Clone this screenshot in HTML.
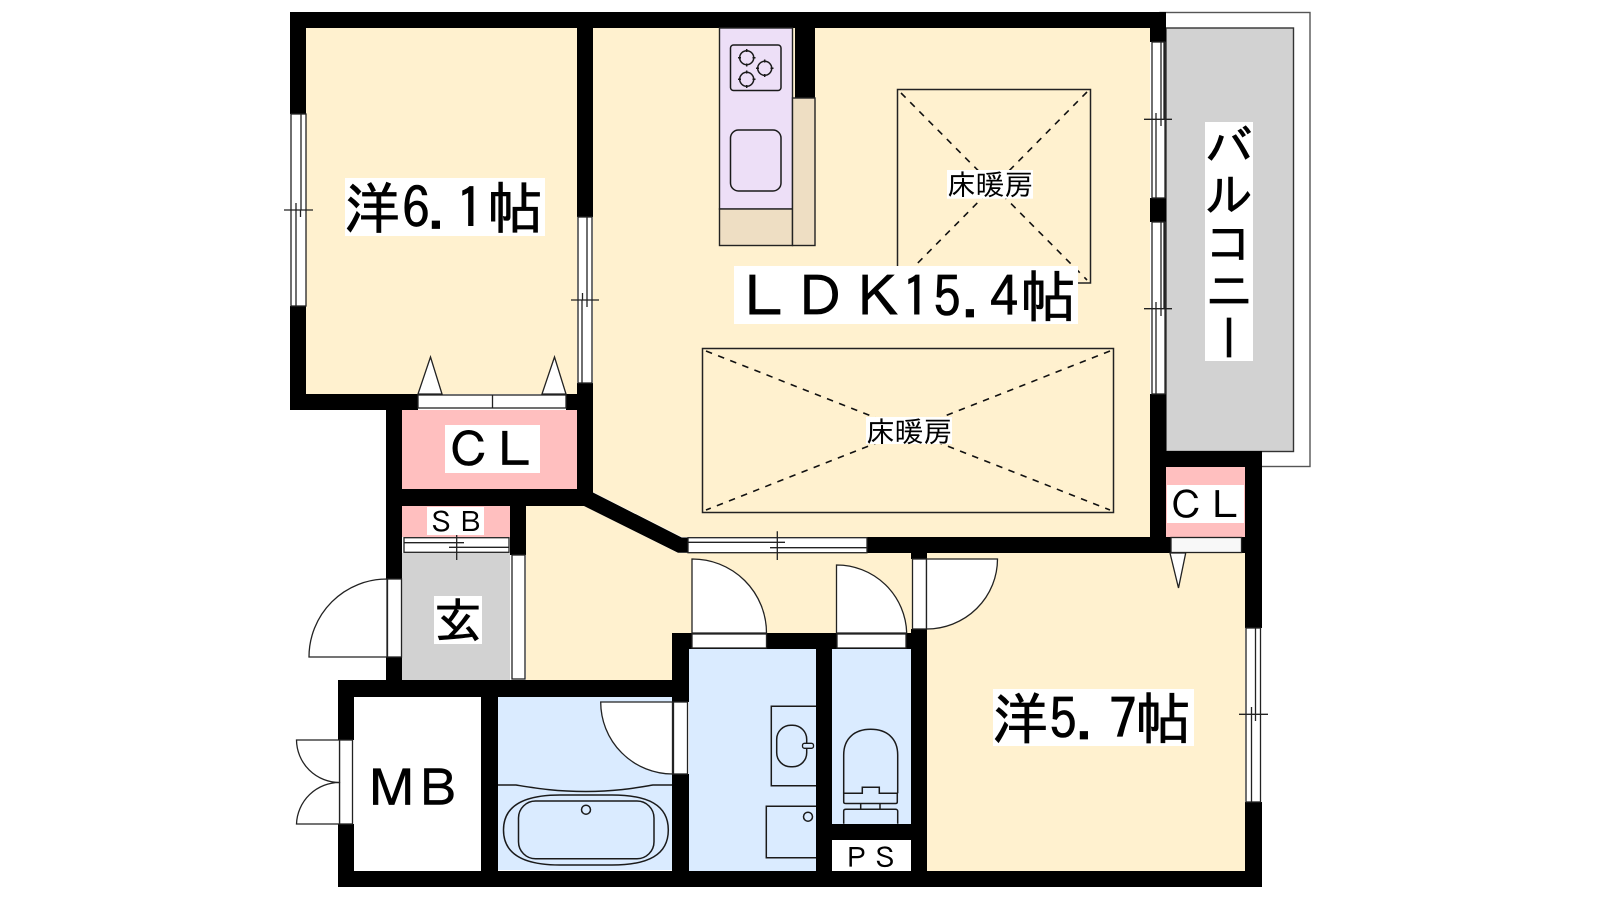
<!DOCTYPE html>
<html lang="ja">
<head>
<meta charset="utf-8">
<title>間取り図</title>
<style>
html,body{margin:0;padding:0;background:#fff;width:1600px;height:900px;overflow:hidden}
svg{display:block}
text{font-family:"IPAGothic","Liberation Sans","Noto Sans CJK JP",sans-serif;fill:#000}
.b{stroke:#000;stroke-width:.7}
.w{fill:#fff;stroke:#222;stroke-width:1.3}
.l{fill:none;stroke:#222;stroke-width:1.3}
.s{fill:none;stroke:#1a1a1a;stroke-width:1.5}
.d{fill:none;stroke:#111;stroke-width:1.6;stroke-dasharray:6.500 6.500}
</style>
</head>
<body>
<svg width="1600" height="900" viewBox="0 0 1600 900" xmlns="http://www.w3.org/2000/svg">
<rect width="1600" height="900" fill="#fff"/>

<!-- balcony -->
<rect x="1160" y="12.500" width="150" height="454" fill="#fff" stroke="#555" stroke-width="1.400"/>
<rect x="1166" y="28" width="127.500" height="423.500" fill="#d2d2d2" stroke="#333" stroke-width="1.400"/>

<!-- floors -->
<rect x="306" y="28" width="271" height="366" fill="#fff1cf"/>
<polygon points="593,28 1150,28 1150,537 682,537 593,492" fill="#fff1cf"/>
<polygon points="526,506 584,506 678,553 927,553 927,633 672,633 672,680 526,680" fill="#fff1cf"/>
<rect x="927" y="553" width="318" height="318" fill="#fff1cf"/>
<rect x="402" y="410" width="175" height="79" fill="#ffbfbf"/>
<rect x="402" y="506" width="108" height="31" fill="#ffbfbf"/>
<rect x="402" y="553" width="108" height="127" fill="#d2d2d2"/>
<rect x="498" y="697" width="174" height="173" fill="#daebff"/>
<rect x="689" y="649" width="127" height="222" fill="#daebff"/>
<rect x="832" y="649" width="79" height="175" fill="#daebff"/>
<rect x="1166" y="467" width="79" height="70" fill="#ffbfbf"/>

<!-- walls -->
<g fill="#000">
<rect x="290" y="12" width="876" height="16"/>
<rect x="290" y="12" width="16" height="102"/>
<rect x="290" y="306" width="16" height="104"/>
<rect x="290" y="394" width="128" height="16"/>
<rect x="566" y="394" width="27" height="16"/>
<rect x="577" y="28" width="16" height="189"/>
<rect x="577" y="383" width="16" height="123"/>
<rect x="386" y="489" width="207" height="17"/>
<rect x="386" y="394" width="16" height="185"/>
<rect x="386" y="657" width="16" height="40"/>
<polygon points="593,492.500 681.700,537.500 688,537.500 688,552.700 678,552.700 584,506"/>
<rect x="510" y="506" width="16" height="49"/>
<rect x="338" y="680" width="351" height="17"/>
<rect x="672" y="633" width="17" height="69"/>
<rect x="672" y="774" width="17" height="113"/>
<rect x="338" y="680" width="16" height="60"/>
<rect x="338" y="824" width="16" height="63"/>
<rect x="338" y="871" width="924" height="16"/>
<rect x="481" y="697" width="17" height="174"/>
<rect x="672" y="633" width="255" height="16"/>
<rect x="816" y="633" width="16" height="254"/>
<rect x="832" y="824" width="79" height="16"/>
<rect x="911" y="629" width="16" height="258"/>
<rect x="911" y="552" width="16" height="7"/>
<rect x="867" y="537" width="395" height="16"/>
<rect x="1150" y="12" width="16" height="30"/>
<rect x="1150" y="198" width="16" height="24"/>
<rect x="1150" y="394" width="16" height="159"/>
<rect x="1150" y="451" width="112" height="16"/>
<rect x="1245" y="451" width="17" height="177"/>
<rect x="1245" y="802" width="17" height="85"/>
<rect x="795" y="28" width="20" height="70"/>
</g>

<!-- kitchen -->
<rect x="719.500" y="28" width="73" height="181" fill="#eddff7" stroke="#222" stroke-width="1.400"/>
<rect x="719.500" y="209" width="73" height="36.500" fill="#eedec3" stroke="#222" stroke-width="1.400"/>
<rect x="792.500" y="98" width="22.500" height="147.500" fill="#eedec3" stroke="#222" stroke-width="1.400"/>
<rect x="730.500" y="45" width="50.500" height="45.500" rx="3" class="s"/>
<rect x="730.500" y="130" width="50.500" height="61" rx="8" class="s"/>
<g class="s">
<circle cx="746.700" cy="57.700" r="7"/><circle cx="764.700" cy="68.300" r="7"/><circle cx="746.700" cy="79.300" r="7"/>
<path d="M746.700 49v3M746.700 63.500v3M738 57.700h3M752.500 57.700h3M764.700 59.500v3M764.700 74v3M756 68.300h3M770.500 68.300h3M746.700 70.500v3M746.700 85v3M738 79.300h3M752.500 79.300h3"/>
</g>

<!-- floor heating -->
<rect x="897.500" y="89.500" width="193" height="193.500" fill="none" stroke="#222" stroke-width="1.500"/>
<path class="d" d="M901 93L1087 280M1087 92L901 280"/>
<rect x="702.500" y="348.500" width="411" height="164" fill="none" stroke="#222" stroke-width="1.500"/>
<path class="d" d="M706 351L1110 510M1110 351L706 510"/>

<!-- windows -->
<rect x="291" y="114" width="15" height="192" class="w"/>
<path class="l" d="M301 114V210M296 210V306M284 210H313M296 203V210M300.500 210V217"/>
<rect x="578" y="217" width="14" height="166" class="w"/>
<path class="l" d="M587 217V300M582 300V383M571 300H599M582.500 293V300M587 300V307"/>
<rect x="1152" y="42" width="13" height="156" class="w"/>
<path class="l" d="M1161 42V119M1164 42V119M1156 119V198M1144 119.300H1172M1156 113V119M1161 119V126"/>
<rect x="1152" y="222" width="13" height="172" class="w"/>
<path class="l" d="M1161 222V309M1164 222V309M1156 309V394M1144 308.700H1172M1156 302V309M1161 309V316"/>
<rect x="1246" y="628" width="14.500" height="174" class="w"/>
<path class="l" d="M1255.500 628V714M1251.500 714V802M1239 714.300H1268M1251.500 707V714M1255.500 714V721"/>
<rect x="688" y="537.700" width="179" height="15" class="w"/>
<path class="l" d="M688 542.300H785M770 547.700H867M777.300 531.300V560"/>
<rect x="404" y="537.700" width="105" height="14.600" class="w"/>
<path class="l" d="M404 542.700H464M449 547.300H509M456.700 535V560"/>

<!-- closet doors -->
<rect x="418" y="395" width="148" height="13" class="w"/>
<path class="l" d="M492.500 395V408"/>
<polygon points="418,394 442,394 430.500,357" class="w"/>
<polygon points="542,394 566,394 554.500,357" class="w"/>
<rect x="1171" y="537.500" width="70.500" height="15" fill="#f8f8f8" stroke="#222" stroke-width="1.300"/>
<polygon points="1170,553 1185.700,553 1178.500,588" class="w"/>

<!-- entry doors -->
<rect x="387.500" y="579" width="14" height="78" class="w"/>
<path class="w" d="M387 579A78 78 0 0 0 309 657H387Z"/>
<rect x="512" y="555" width="13" height="124" class="w"/>
<rect x="339.500" y="740" width="13" height="84" class="w"/>
<path class="w" d="M339.500 740H296.500A43 43 0 0 0 339.500 782.500Z"/>
<path class="w" d="M339.500 824H296.500A43 43 0 0 1 339.500 782.500Z"/>
<rect x="673.500" y="702" width="14" height="72" class="w"/>
<path class="w" d="M672.500 702H600.700A72 72 0 0 0 672.500 774Z"/>
<rect x="692" y="634" width="74.500" height="14" class="w"/>
<path class="w" d="M692 633V559A74 74 0 0 1 766.500 633Z"/>
<rect x="837" y="634" width="69" height="14" class="w"/>
<path class="w" d="M836.500 633V565A70 70 0 0 1 906.700 633Z"/>
<rect x="912.500" y="559" width="14" height="70" class="w"/>
<path class="w" d="M926.500 559H997.500A71 70 0 0 1 926.500 629Z"/>

<!-- bath -->
<path class="s" d="M498 785H516C535 788 555 791.500 586 791.500C617 791.500 635 788 653 785H672"/>
<path class="s" d="M503.500 830C503.500 805 525 795 560 795H612C648 795 668.300 805 668.300 830C668.300 855 648 865 612 865H560C525 865 503.500 855 503.500 830Z"/>
<rect x="518.500" y="801" width="135.500" height="57.700" rx="17" class="s"/>
<circle cx="586" cy="809.700" r="4.500" class="s"/>

<!-- wash -->
<path class="s" d="M816 706.300H771.300V785.700H816"/>
<rect x="776.700" y="725.300" width="30" height="41.500" rx="14" class="s"/>
<rect x="802.500" y="743.300" width="11" height="5" rx="2" fill="#daebff" stroke="#1a1a1a" stroke-width="1.300"/>
<path class="s" d="M816 806.300H766.300V857.700H816"/>
<circle cx="808" cy="816.700" r="4.500" class="s"/>

<!-- toilet -->
<path class="s" d="M843.700 793.300V755C843.700 738 855 729.300 870.700 729.300C886.500 729.300 897.700 738 897.700 755V793.300"/>
<path class="s" d="M843.700 793.300H862.300V787.300H879.300V793.300H897.300V802C897.300 803 896.500 803.500 895.500 803.500H846C844.500 803.500 843.700 803 843.700 802Z"/>
<path class="s" d="M860.700 803.500V809.300M880 803.500V809.300M843.700 823.700V811C843.700 810 844.500 809.300 846 809.300H895.500C896.500 809.300 897.700 810 897.700 811V823.700"/>

<!-- labels -->
<rect x="345" y="178" width="200" height="58" fill="#fff"/>
<text class="b" font-size="56" y="228.500" x="372 416 441 470 515" text-anchor="middle">洋6.1帖</text>

<rect x="734" y="266" width="344" height="58" fill="#fff"/>
<text class="b" font-size="56" y="317" x="764 820 878 916 947 975 1004 1048" text-anchor="middle">ＬＤＫ15.4帖</text>

<rect x="993" y="689" width="201" height="57" fill="#fff"/>
<text class="b" font-size="56" y="739" x="1020 1063 1089 1123 1163" text-anchor="middle">洋5.7帖</text>

<rect x="947" y="170" width="86" height="28.700" fill="#fff"/>
<text font-size="28.700" y="195" x="947">床暖房</text>
<rect x="866" y="417" width="86" height="27" fill="#fff"/>
<text font-size="28.700" y="442" x="866">床暖房</text>

<rect x="1205" y="122" width="48" height="239" fill="#fff"/>
<text class="b" font-size="47.800" x="1229" y="122" writing-mode="vertical-rl">バルコニー</text>

<rect x="445" y="425" width="95" height="48" fill="#fff"/>
<text class="b" font-size="47.500" y="467" x="445 491">ＣＬ</text>

<rect x="1167" y="485" width="77" height="38" fill="#fff"/>
<text font-size="38.500" y="519" x="1167 1206">ＣＬ</text>

<rect x="427" y="507" width="57" height="28" fill="#fff"/>
<text font-size="28.500" y="532.500" x="427 456">ＳＢ</text>

<rect x="434" y="596" width="48" height="48" fill="#fff"/>
<text class="b" font-size="48" y="638" x="434">玄</text>

<text class="b" font-size="51" y="807" x="366 412">ＭＢ</text>

<text font-size="28" y="868" x="842 871">ＰＳ</text>
</svg>
</body>
</html>
